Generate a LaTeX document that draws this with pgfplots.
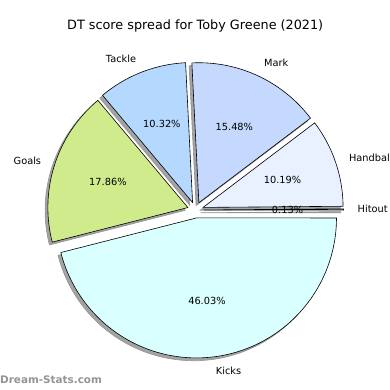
\documentclass[border=0pt]{standalone}
\usepackage{pgfplots}
\pgfplotsset{compat=1.18}
\usepackage{pgfplotstable}
\usepackage{fontspec}
\setmainfont{DejaVu Sans}
\definecolor{cHit}{RGB}{200,210,240}
\definecolor{cHand}{RGB}{233,240,255}
\definecolor{cMark}{RGB}{197,217,255}
\definecolor{cTack}{RGB}{181,216,255}
\definecolor{cGoal}{RGB}{208,235,139}
\definecolor{cKick}{RGB}{217,255,255}
\newcommand\lblfont{\fontsize{9.8}{11}\selectfont}
\pgfplotstableread{
label value col
Hitout 0.13 cHit
Handball 10.19 cHand
Mark 15.48 cMark
Tackle 10.32 cTack
Goals 17.86 cGoal
Kicks 46.03 cKick
}\piedata
\begin{document}
\begin{tikzpicture}
\def\cx{195.5}
\def\cy{180}
\def\R{140}
\def\ex{8}
\gdef\tot{0}
\foreach \i in {0,...,5}{%
  \pgfplotstablegetelem{\i}{value}\of\piedata
  \pgfmathsetmacro\tmpa{\tot+\pgfplotsretval}%
  \xdef\tot{\tmpa}%
}
\gdef\cum{0}
\foreach \i in {0,...,5}{%
  \pgfplotstablegetelem{\i}{value}\of\piedata
  \edef\myval{\pgfplotsretval}%
  \pgfplotstablegetelem{\i}{label}\of\piedata
  \edef\mylab{\pgfplotsretval}%
  \pgfplotstablegetelem{\i}{col}\of\piedata
  \edef\mycol{\pgfplotsretval}%
  \pgfmathsetmacro\sa{\cum/\tot*360}%
  \pgfmathsetmacro\ea{(\cum+\myval)/\tot*360}%
  \pgfmathsetmacro\ma{(\sa+\ea)/2}%
  \pgfmathsetmacro\ox{\cx+\ex*cos(\ma)}%
  \pgfmathsetmacro\oy{\cy+\ex*sin(\ma)}%
  \pgfmathsetmacro\sx{\ox-2.8}%
  \pgfmathsetmacro\sy{\oy-2.8}%
  \pgfmathsetmacro\lx{\ox+1.1*\R*cos(\ma)}%
  \pgfmathsetmacro\ly{\oy+1.1*\R*sin(\ma)}%
  \pgfmathsetmacro\px{\ox+0.6*\R*cos(\ma)}%
  \pgfmathsetmacro\py{\oy+0.6*\R*sin(\ma)}%
  \pgfmathsetmacro\cosm{cos(\ma)}%
  \ifdim\cosm pt>0pt \def\an{west}\else\def\an{east}\fi
  \pgfmathsetmacro\nc{\cum+\myval}%
  \xdef\cum{\nc}%
  \expandafter\xdef\csname sa\i\endcsname{\sa}%
  \expandafter\xdef\csname ea\i\endcsname{\ea}%
  \expandafter\xdef\csname ox\i\endcsname{\ox}%
  \expandafter\xdef\csname oy\i\endcsname{\oy}%
  \expandafter\xdef\csname sx\i\endcsname{\sx}%
  \expandafter\xdef\csname sy\i\endcsname{\sy}%
  \expandafter\xdef\csname lx\i\endcsname{\lx}%
  \expandafter\xdef\csname ly\i\endcsname{\ly}%
  \expandafter\xdef\csname px\i\endcsname{\px}%
  \expandafter\xdef\csname py\i\endcsname{\py}%
  \expandafter\xdef\csname an\i\endcsname{\an}%
  \expandafter\xdef\csname lab\i\endcsname{\mylab}%
  \expandafter\xdef\csname pv\i\endcsname{\myval}%
  \expandafter\xdef\csname col\i\endcsname{\mycol}%
}
\begin{axis}[scale only axis, width=390pt, height=390pt,
  xmin=0, xmax=390, ymin=0, ymax=390, hide axis, clip=false]
% shadows
\pgfplotsinvokeforeach{0,...,5}{%
  \edef\temp{\noexpand\addplot[draw=black!42, fill=black!36, line width=0.6pt,
    domain=\csname sa#1\endcsname:\csname ea#1\endcsname, samples=90]
    ({\csname sx#1\endcsname+\R*cos(x)},{\csname sy#1\endcsname+\R*sin(x)})
    -- (axis cs:\csname sx#1\endcsname,\csname sy#1\endcsname) -- cycle;}%
  \temp
}
% wedges
\pgfplotsinvokeforeach{0,...,5}{%
  \edef\temp{\noexpand\addplot[draw=black, fill=\csname col#1\endcsname, line width=0.6pt,
    domain=\csname sa#1\endcsname:\csname ea#1\endcsname, samples=90]
    ({\csname ox#1\endcsname+\R*cos(x)},{\csname oy#1\endcsname+\R*sin(x)})
    -- (axis cs:\csname ox#1\endcsname,\csname oy#1\endcsname) -- cycle;}%
  \temp
}
% labels
\pgfplotsinvokeforeach{0,...,5}{%
  \edef\temp{\noexpand\node[anchor=\csname an#1\endcsname, inner sep=0pt, font=\noexpand\lblfont]
    at (axis cs:\csname lx#1\endcsname,\csname ly#1\endcsname) {\csname lab#1\endcsname};
    \noexpand\node[inner sep=0pt, font=\noexpand\lblfont]
    at (axis cs:\csname px#1\endcsname,\csname py#1\endcsname) {\csname pv#1\endcsname\noexpand\%};}%
  \temp
}
\node[font=\fontsize{12.8}{14}\selectfont, inner sep=0pt] at (axis cs:195.2,364.5) {DT score spread for Toby Greene (2021)};
\node[font=\fontsize{10.4}{12}\selectfont\bfseries, text=black!42, anchor=west, inner sep=0pt] at (axis cs:0,10.5) {Dream-Stats.com};
\end{axis}
\pgfresetboundingbox
\useasboundingbox (0,0) rectangle (390pt,390pt);
\end{tikzpicture}
\end{document}
